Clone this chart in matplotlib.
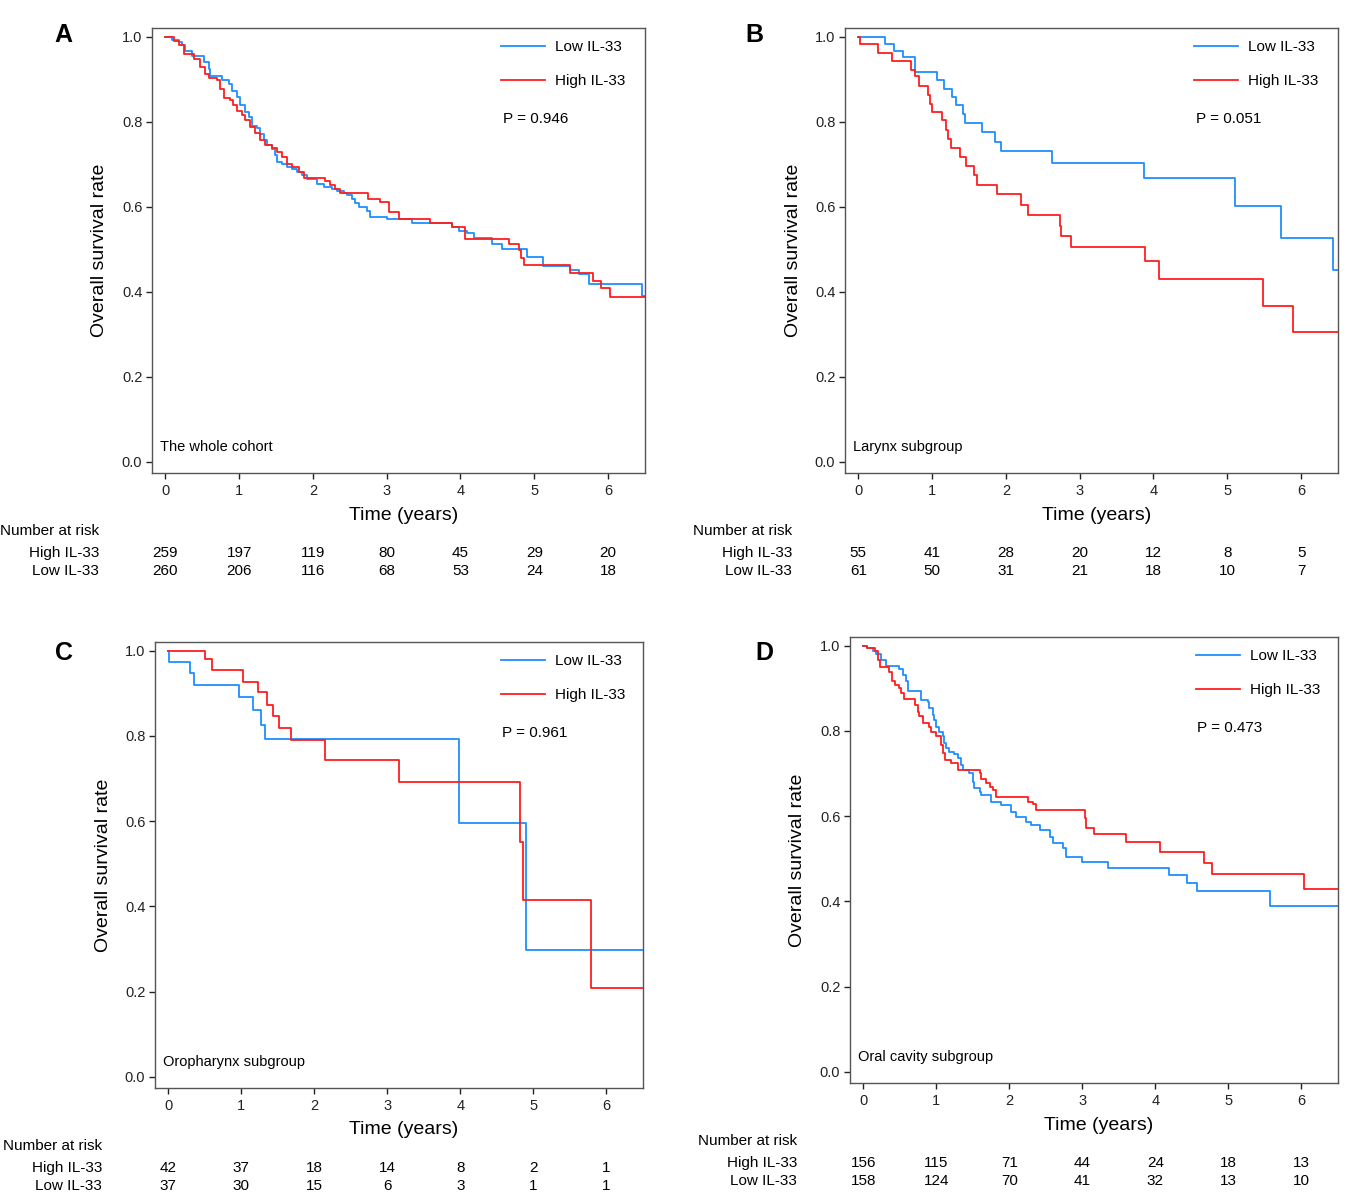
import matplotlib
matplotlib.use("Agg")
import matplotlib.pyplot as plt
from matplotlib.transforms import blended_transform_factory

# -------------------------------------------------
# DATA
# -------------------------------------------------
# A: the whole cohort
a_low_t = [0, 0.090, 0.181, 0.226, 0.271, 0.361, 0.519, 0.587, 0.610, 0.768, 0.858, 0.903,
           0.971, 1.016, 1.084, 1.129, 1.174, 1.242, 1.287, 1.332, 1.378, 1.445, 1.491,
           1.513, 1.581, 1.649, 1.716, 1.784, 1.852, 1.920, 2.055, 2.145, 2.258, 2.326,
           2.416, 2.462, 2.529, 2.575, 2.620, 2.733, 2.778, 3.004, 3.342, 3.884, 3.975,
           4.088, 4.178, 4.426, 4.562, 4.901, 5.117, 5.479, 5.601, 5.736, 6.459, 6.50]
a_low_s = [1.0, 0.992, 0.987, 0.979, 0.967, 0.955, 0.940, 0.924, 0.908, 0.897, 0.889, 0.873,
           0.858, 0.838, 0.822, 0.811, 0.789, 0.786, 0.772, 0.756, 0.744, 0.736, 0.721,
           0.705, 0.701, 0.693, 0.689, 0.682, 0.674, 0.664, 0.654, 0.646, 0.642, 0.637,
           0.631, 0.627, 0.619, 0.609, 0.599, 0.590, 0.576, 0.570, 0.562, 0.552, 0.542,
           0.537, 0.527, 0.513, 0.501, 0.482, 0.461, 0.451, 0.441, 0.419, 0.390, 0.390]
a_high_t = [0, 0.113, 0.181, 0.248, 0.384, 0.474, 0.542, 0.587, 0.700, 0.745, 0.790, 0.881,
            0.917, 0.971, 1.039, 1.084, 1.152, 1.220, 1.287, 1.355, 1.445, 1.513, 1.581,
            1.649, 1.716, 1.807, 1.874, 2.168, 2.236, 2.304, 2.371, 2.742, 2.904, 3.026,
            3.162, 3.591, 3.884, 4.065, 4.652, 4.788, 4.819, 4.856, 5.488, 5.795, 5.903,
            6.030, 6.50]
a_high_s = [1.0, 0.989, 0.979, 0.959, 0.948, 0.928, 0.912, 0.903, 0.897, 0.877, 0.856, 0.850,
            0.838, 0.826, 0.815, 0.803, 0.787, 0.773, 0.756, 0.746, 0.739, 0.728, 0.717,
            0.701, 0.693, 0.682, 0.668, 0.660, 0.650, 0.642, 0.632, 0.619, 0.611, 0.588,
            0.570, 0.562, 0.552, 0.525, 0.512, 0.498, 0.480, 0.462, 0.445, 0.426, 0.408,
            0.387, 0.387]
a_risk_high = [259, 197, 119, 80, 45, 29, 20]
a_risk_low = [260, 206, 116, 68, 53, 24, 18]

# B: larynx subgroup
b_low_t = [0, 0.356, 0.482, 0.604, 0.770, 1.063, 1.158, 1.266, 1.324, 1.414, 1.450, 1.671,
           1.851, 1.932, 2.622, 3.878, 5.108, 5.730, 6.437, 6.50]
b_low_s = [1.0, 0.983, 0.967, 0.952, 0.916, 0.897, 0.877, 0.858, 0.838, 0.818, 0.797, 0.775,
           0.752, 0.730, 0.703, 0.668, 0.602, 0.526, 0.451, 0.451]
b_high_t = [0, 0.02, 0.266, 0.455, 0.716, 0.770, 0.820, 0.941, 0.968, 0.995, 1.131, 1.189,
            1.221, 1.257, 1.378, 1.455, 1.572, 1.608, 1.878, 2.203, 2.293, 2.730, 2.743,
            2.878, 3.887, 4.081, 5.482, 5.887, 6.50]
b_high_s = [1.0, 0.983, 0.962, 0.942, 0.922, 0.906, 0.883, 0.862, 0.842, 0.822, 0.803, 0.781,
            0.760, 0.739, 0.717, 0.695, 0.674, 0.652, 0.629, 0.605, 0.581, 0.555, 0.531,
            0.505, 0.473, 0.429, 0.367, 0.306, 0.306]
b_risk_high = [55, 41, 28, 20, 12, 8, 5]
b_risk_low = [61, 50, 31, 21, 18, 10, 7]

# C: oropharynx subgroup
c_low_t = [0, 0.01, 0.302, 0.357, 0.975, 1.167, 1.272, 1.332, 3.982, 4.902, 6.50]
c_low_s = [1.0, 0.973, 0.948, 0.920, 0.891, 0.860, 0.826, 0.793, 0.595, 0.298, 0.298]
c_high_t = [0, 0.503, 0.600, 1.030, 1.236, 1.350, 1.442, 1.515, 1.684, 2.151, 3.158, 4.819,
            4.856, 5.794, 6.50]
c_high_s = [1.0, 0.979, 0.954, 0.926, 0.902, 0.873, 0.846, 0.818, 0.789, 0.744, 0.691, 0.552,
            0.415, 0.208, 0.208]
c_risk_high = [42, 37, 18, 14, 8, 2, 1]
c_risk_low = [37, 30, 15, 6, 3, 1, 1]

# D: oral cavity subgroup
d_low_t = [0, 0.046, 0.128, 0.174, 0.243, 0.311, 0.494, 0.540, 0.586, 0.609, 0.792, 0.883,
           0.906, 0.952, 0.975, 0.998, 1.043, 1.089, 1.112, 1.135, 1.181, 1.249, 1.295,
           1.341, 1.373, 1.455, 1.501, 1.524, 1.593, 1.616, 1.753, 1.890, 2.027, 2.096,
           2.233, 2.302, 2.416, 2.554, 2.600, 2.737, 2.783, 3.002, 3.346, 4.188, 4.430,
           4.568, 5.574, 6.50]
d_low_s = [1.0, 0.995, 0.987, 0.979, 0.967, 0.951, 0.944, 0.932, 0.916, 0.893, 0.873, 0.867,
           0.853, 0.838, 0.826, 0.810, 0.798, 0.787, 0.771, 0.759, 0.751, 0.746, 0.736,
           0.720, 0.708, 0.700, 0.681, 0.665, 0.657, 0.649, 0.634, 0.626, 0.610, 0.598,
           0.587, 0.579, 0.567, 0.551, 0.536, 0.524, 0.504, 0.493, 0.478, 0.461, 0.444,
           0.424, 0.388, 0.388]
d_high_t = [0, 0.059, 0.165, 0.197, 0.229, 0.357, 0.394, 0.439, 0.485, 0.517, 0.563, 0.714,
            0.746, 0.769, 0.815, 0.906, 0.929, 0.998, 1.066, 1.089, 1.126, 1.204, 1.295,
            1.593, 1.616, 1.684, 1.730, 1.776, 1.822, 2.256, 2.325, 2.371, 3.034, 3.057,
            3.158, 3.597, 4.064, 4.659, 4.773, 6.032, 6.50]
d_high_s = [1.0, 0.995, 0.987, 0.967, 0.949, 0.937, 0.916, 0.908, 0.900, 0.889, 0.875, 0.861,
            0.845, 0.834, 0.818, 0.810, 0.798, 0.787, 0.767, 0.747, 0.732, 0.724, 0.708,
            0.700, 0.686, 0.677, 0.669, 0.661, 0.645, 0.634, 0.628, 0.614, 0.595, 0.571,
            0.558, 0.540, 0.516, 0.490, 0.465, 0.429, 0.429]
d_risk_high = [156, 115, 71, 44, 24, 18, 13]
d_risk_low = [158, 124, 70, 41, 32, 13, 10]

risk_times = [0, 1, 2, 3, 4, 5, 6]
p_values = ["0.946", "0.051", "0.961", "0.473"]
panel_letters = ["A", "B", "C", "D"]
subgroups = ["The whole cohort", "Larynx subgroup", "Oropharynx subgroup", "Oral cavity subgroup"]

# -------------------------------------------------
# VISUAL SETTINGS
# -------------------------------------------------
plt.rcParams.update({
    "font.family": ["Liberation Sans", "DejaVu Sans"],
    "font.size": 10,
    "axes.edgecolor": "#555555",
    "axes.linewidth": 1.0,
    "xtick.color": "#333333",
    "ytick.color": "#333333",
})

BLUE = "#1f8fff"
RED = "#ff1e1e"

W, H = 1359, 1192
fig = plt.figure(figsize=(W / 100, H / 100), dpi=100)

# axes boxes in pixels: left, top, right, bottom
boxes = [(152, 28, 645, 473), (845, 28, 1338, 473),
         (155, 642, 643, 1088), (850, 637, 1338, 1083)]
letter_pos = [(63, 35), (754, 35), (64, 653), (764, 653)]

curves = [
    (a_low_t, a_low_s, a_high_t, a_high_s, a_risk_high, a_risk_low),
    (b_low_t, b_low_s, b_high_t, b_high_s, b_risk_high, b_risk_low),
    (c_low_t, c_low_s, c_high_t, c_high_s, c_risk_high, c_risk_low),
    (d_low_t, d_low_s, d_high_t, d_high_s, d_risk_high, d_risk_low),
]

for i, (lt, ls, ht, hs, rh, rl) in enumerate(curves):
    l, t, r, b = boxes[i]
    bw, bh = r - l, b - t
    ax = fig.add_axes([l / W, 1 - b / H, bw / W, bh / H])

    ln_low, = ax.step(lt, ls, where="post", color=BLUE, lw=1.3)
    ln_high, = ax.step(ht, hs, where="post", color=RED, lw=1.3)

    ax.set_xlim(-0.18, 6.5)
    ax.set_ylim(-0.026, 1.02)
    ax.set_xticks(risk_times)
    ax.set_yticks([0, 0.2, 0.4, 0.6, 0.8, 1.0])
    ax.set_yticklabels(["0.0", "0.2", "0.4", "0.6", "0.8", "1.0"])
    ax.tick_params(length=4, width=1.0, labelsize=10.5, pad=3, colors="#222222")
    ax.tick_params(axis="x", pad=4)

    ax.text(-52 / bw, 0.5, "Overall survival rate", rotation=90, transform=ax.transAxes,
            ha="center", va="center", fontsize=14)
    ax.text(0.51, -42 / bh, "Time (years)", transform=ax.transAxes,
            ha="center", va="center", fontsize=14)
    ax.text(0.016, 0.058, subgroups[i], transform=ax.transAxes,
            ha="left", va="center", fontsize=10.5)
    ax.text(0.711, 0.796, "P = " + p_values[i], transform=ax.transAxes,
            ha="left", va="center", fontsize=11)

    leg = ax.legend([ln_low, ln_high], ["Low IL-33", "High IL-33"],
                    loc="upper left", bbox_to_anchor=(0.708, 0.972),
                    frameon=False, fontsize=11, handlelength=2.9,
                    handletextpad=0.65, labelspacing=1.3, borderpad=0,
                    borderaxespad=0)
    for h in leg.get_lines():
        h.set_linewidth(1.3)

    # number at risk table
    tr = blended_transform_factory(ax.transData, ax.transAxes)
    ax.text(-152 / bw, -58 / bh, "Number at risk", transform=ax.transAxes,
            ha="left", va="center", fontsize=11, clip_on=False)
    ax.text(-53 / bw, -80 / bh, "High IL-33", transform=ax.transAxes,
            ha="right", va="center", fontsize=11, clip_on=False)
    ax.text(-53 / bw, -98 / bh, "Low IL-33", transform=ax.transAxes,
            ha="right", va="center", fontsize=11, clip_on=False)
    for x, nh, nl in zip(risk_times, rh, rl):
        ax.text(x, -80 / bh, str(nh), transform=tr, ha="center", va="center",
                fontsize=11, clip_on=False)
        ax.text(x, -98 / bh, str(nl), transform=tr, ha="center", va="center",
                fontsize=11, clip_on=False)

    lx, ly = letter_pos[i]
    fig.text(lx / W, 1 - ly / H, panel_letters[i], ha="center", va="center",
             fontsize=18, fontweight="bold")

fig.savefig("out.png", dpi=100)
